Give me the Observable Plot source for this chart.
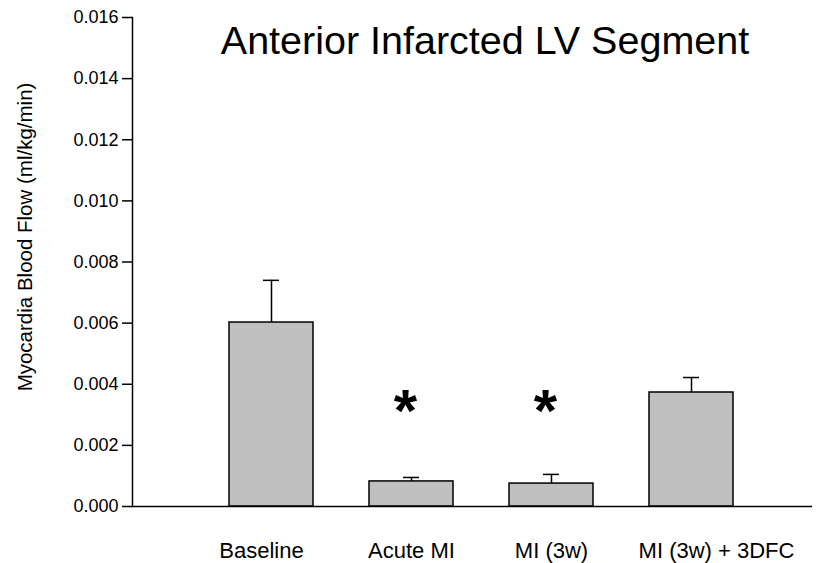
<!DOCTYPE html>
<html>
<head>
<meta charset="utf-8">
<script src="https://cdn.jsdelivr.net/npm/d3@7"></script>
<script src="https://cdn.jsdelivr.net/npm/@observablehq/plot@0.6"></script>
<style>
  html, body { margin: 0; padding: 0; background: #fff; }
  #chart svg { font-family: "Liberation Sans", Arial, Helvetica, sans-serif; }
</style>
</head>
<body>
<div id="chart"></div>
<script>
const categories = ["Baseline", "Acute MI", "MI (3w)", "MI (3w) + 3DFC"];
const flow = [0.00602, 0.00082, 0.00075, 0.00373];
const sem = [0.00138, 0.00013, 0.00030, 0.00049];
const significant = [false, true, true, false];
const yTicks = [0, 0.002, 0.004, 0.006, 0.008, 0.010, 0.012, 0.014, 0.016];
const title = "Anterior Infarcted LV Segment";
const yLabel = "Myocardia Blood Flow (ml/kg/min)";

const data = categories.map((c, i) => ({
  group: c, value: flow[i], upper: flow[i] + sem[i], star: significant[i]
}));

const chart = Plot.plot({
  width: 819,
  height: 563,
  marginLeft: 132,
  marginRight: 7,
  marginTop: 17,
  marginBottom: 57,
  style: { fontFamily: "'Liberation Sans', Arial, Helvetica, sans-serif", color: "#000", background: "#fff" },
  x: { domain: categories, range: [201, 761], paddingInner: 0.4, paddingOuter: 0.2, axis: null },
  y: { domain: [0, 0.016], axis: null },
  marks: [
    Plot.barY(data, { x: "group", y: "value", fill: "#c0c0c0", stroke: "#000", strokeWidth: 1.5 }),
    Plot.ruleX(data, { x: "group", y1: "value", y2: "upper", stroke: "#000", strokeWidth: 1.5 }),
    Plot.tickY(data, { x: "group", y: "upper", stroke: "#000", strokeWidth: 1.5, insetLeft: 34, insetRight: 34 }),
    Plot.text(data.filter(d => d.star), { x: "group", y: () => 0.0031, text: () => "*", fontSize: 60, fontWeight: "bold", dx: -6, lineAnchor: "middle" }),
    Plot.ruleY([0], { stroke: "#000", strokeWidth: 1.5 }),
    Plot.frame({ anchor: "left", stroke: "#000", strokeWidth: 1.5 }),
    Plot.axisY({ ticks: yTicks, tickFormat: d3.format(".3f"), tickSize: 10, tickPadding: 4, fontSize: 18, label: null, stroke: "#000", strokeWidth: 1.5 }),
    Plot.axisX(["Baseline"], { tickSize: 0, tickPadding: 36, fontSize: 22, label: null, dx: -10 }),
    Plot.axisX(["Acute MI", "MI (3w)"], { tickSize: 0, tickPadding: 36, fontSize: 22, label: null }),
    Plot.axisX(["MI (3w) + 3DFC"], { tickSize: 0, tickPadding: 36, fontSize: 22, label: null, dx: 25 }),
    Plot.text([title], { frameAnchor: "top", dx: 12.5, dy: 36, lineAnchor: "bottom", fontSize: 39.5 }),
    Plot.text([yLabel], { frameAnchor: "left", rotate: -90, textAnchor: "middle", dx: -107, dy: -25, lineAnchor: "middle", fontSize: 20.5 })
  ]
});
document.getElementById("chart").appendChild(chart);
</script>
</body>
</html>
